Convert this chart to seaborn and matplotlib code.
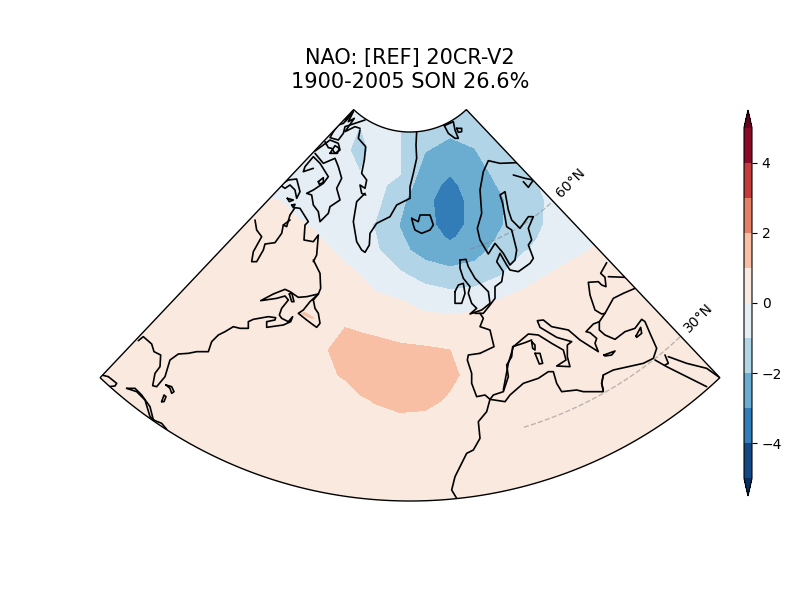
import numpy as np
import pandas as pd
import matplotlib
matplotlib.use("Agg")
import matplotlib.pyplot as plt
from matplotlib.patches import Polygon
from matplotlib.colors import Normalize
import seaborn as sns

TITLE = "NAO: [REF] 20CR-V2\n1900-2005 SON 26.6%"
LEVELS = np.arange(-5, 6, 1)
CBAR_TICKS = [-4, -2, 0, 2, 4]

# map-plane sampling of the pattern
GRID_X = [100, 200, 280, 315, 345, 360, 375, 400, 425, 450, 475, 500, 525, 550, 600, 720]
GRID_Y = [100, 125, 150, 175, 185, 200, 225, 237, 250, 275, 300, 325, 350, 375, 400, 425, 500]
NAO = [
 [-.2, -.3, -.5, -.6, -.75, -1.0, -.85, -1.0, -1.3, -1.7, -1.6, -1.2, -1.0, -.9, -.6, -.4],
 [-.2, -.3, -.5, -.6, -.75, -1.0, -.85, -1.0, -1.3, -1.7, -1.6, -1.2, -1.0, -.9, -.6, -.4],
 [-.2, -.3, -.5, -.7, -.875, -1.25, -.78, -.97, -1.95, -2.3, -2.03, -1.1, -.9, -.8, -.6, -.4],
 [-.1, -.2, -.45, -.6, -.7, -.97, -.75, -1.0, -2.5, -3.0, -2.45, -1.75, -1.05, -.85, -.6, -.3],
 [.06, -.04, -.27, -.54, -.68, -.87, -.74, -1.3, -2.65, -3.2, -2.6, -1.9, -1.17, -.87, -.56, -.26],
 [.3, .2, 0, -.45, -.65, -.72, -.72, -1.72, -2.9, -3.2, -2.85, -2.15, -1.35, -.9, -.5, -.2],
 [.4, .3, .15, -.05, -.55, -.8, -1.05, -2.05, -2.85, -3.2, -2.85, -2.1, -1.4, -.85, -.35, -.1],
 [.45, .38, .25, .05, -.33, -.58, -.95, -1.88, -2.65, -3.1, -2.7, -1.9, -1.22, -.8, -.08, .2],
 [.5, .45, .35, .15, -.1, -.35, -.85, -1.7, -2.45, -2.75, -2.4, -1.65, -1.05, -.75, .2, .5],
 [.55, .5, .45, .3, .1, 0, -.3, -.85, -1.35, -1.65, -1.5, -1.05, -.4, .05, .35, .6],
 [.6, .55, .55, .5, .4, .25, .15, 0, -.4, -.55, -.45, .02, .35, .55, .6, .65],
 [.65, .65, .7, .8, .97, .85, .75, .6, .45, .4, .5, .6, .65, .65, .65, .65],
 [.7, .7, .75, .8, 1.25, 1.35, 1.3, 1.15, 1.1, 1.0, .75, .7, .7, .7, .7, .7],
 [.7, .7, .72, .8, 1.06, 1.4, 1.5, 1.5, 1.45, 1.2, .65, .65, .65, .65, .65, .65],
 [.65, .65, .65, .7, .75, .9, 1.05, 1.3, 1.25, .88, .7, .65, .65, .65, .65, .65],
 [.6, .6, .6, .6, .6, .65, .7, .7, .65, .65, .6, .6, .6, .6, .6, .6],
 [.6, .6, .6, .6, .6, .6, .6, .6, .6, .6, .6, .6, .6, .6, .6, .6],
]
# small coastal cell above the 1 level, off Newfoundland
PATCH_VALUE = 1.5
PATCH = [(300, 313), (305, 312), (315, 318), (312, 319), (303, 315)]

# domain
APEX = (410, 50)
R_OUTER, R_INNER, HALF_ANGLE = 451, 82, 43.4
PARALLELS = {"60°N": 208, "30°N": 394}
PARALLEL_START = 16.8

# coastlines: (origin x, origin y, scale-3 outline points)
COASTS = [
 # Hudson Bay, Ungava, Labrador
 (100, 220, [(465,0),(470,30),(485,50),(460,95),(455,125),(470,125),(490,90),(495,72),(525,68),(545,40),(550,15),(570,0)]),
 (280, 105, [(10,360),(20,365),(30,330),(45,308),(60,310),(85,350),(75,360),(72,405),(100,410),(115,390),(110,450),(100,470)]),
 (100, 220, [(640,120),(660,160),(662,205),(655,222),(620,230),(595,232),(570,215),(555,208),(520,222),(482,242),(530,235),(555,228),(565,240),(545,265),(538,285),(545,295),(565,305),(578,290),(572,305),(550,315),(500,322),(500,305),(525,300),(527,293),(505,290),(460,298),(445,305),(445,325),(420,325),(400,320),(375,335),(355,345),(335,365),(325,395),(290,395),(265,400),(235,402),(210,420),(195,470),(170,500),(158,497),(165,460),(180,440),(182,405),(162,395),(155,372),(130,350),(115,362)]),
 (100, 220, [(655,222),(640,240),(645,265),(655,280),(660,310),(650,322),(640,315),(620,300),(595,280),(610,270),(630,245),(655,222)]),
 (100, 220, [(568,222),(575,218),(582,245),(575,245),(568,222)]),
 (100, 220, [(5,465),(25,470),(50,490),(45,498),(25,500)]),
 (100, 220, [(80,505),(105,505),(125,525),(150,560),(160,600),(185,610),(200,628)]),
 (100, 220, [(80,505),(110,515),(135,540),(150,590),(162,600)]),
 (100, 220, [(198,495),(215,500),(222,515),(215,520),(210,505),(198,495)]),
 (100, 220, [(185,545),(192,525),(198,530),(192,545),(185,545)]),
 # Arctic islands
 (280, 105, [(218,14),(205,40),(190,55),(175,60),(160,80),(150,98),(175,105),(190,85),(195,65),(225,55),(255,45)]),
 (280, 105, [(105,138),(130,120),(150,105),(175,115),(180,135),(165,145),(155,130),(145,128),(135,110)]),
 (280, 105, [(150,145),(165,122),(178,130),(172,145),(150,145)]),
 (280, 105, [(105,145),(130,175),(165,160),(175,185),(185,220),(170,250),(180,285),(150,305),(145,325),(120,350),(115,320),(100,300),(95,270),(80,265),(100,255),(130,235),(145,215),(120,175),(100,155),(75,185),(70,200),(100,190)]),
 (280, 105, [(0,240),(25,225),(50,222),(60,260),(50,280),(45,255),(30,240),(15,250),(0,240)]),
 (280, 105, [(115,230),(130,218),(130,232),(118,238),(115,230)]),
 (280, 105, [(22,280),(40,285),(28,290),(22,280)]),
 (280, 105, [(35,300),(45,298),(40,308),(35,300)]),
 (345, 105, [(0,45),(25,20),(10,50),(28,40),(0,80),(30,65),(45,70)]),
 # Greenland
 (345, 105, [(45,75),(40,100),(62,125),(58,165),(50,205),(65,225),(60,250),(45,240),(50,265),(62,270)]),
 (280, 105, [(255,265),(230,290),(220,350),(230,410),(245,435),(255,442),(268,420),(270,385),(290,355),(330,335),(350,300),(390,280)]),
 (345, 105, [(195,279),(195,245),(205,205),(215,160),(213,120),(215,80)]),
 # Svalbard
 (345, 105, [(298,62),(325,50),(330,75),(340,100),(330,100),(310,85),(298,62)]),
 (345, 105, [(335,70),(350,70),(350,80),(340,82),(335,70)]),
 # Iceland
 (400, 150, [(35,205),(55,215),(60,195),(90,195),(100,225),(90,240),(65,250),(45,240),(40,225),(35,205)]),
 # Scandinavia, Baltic, North Sea
 (400, 150, [(350,38),(300,40),(265,32),(250,65),(240,120),(245,190),(232,235),(240,270),(265,312),(285,280),(310,310),(330,345),(345,330),(350,300),(335,240),(320,230),(308,160),(300,135),(315,125),(325,180),(335,210),(360,235),(385,200),(400,200),(385,235),(395,270),(385,285),(400,325),(390,340),(355,365),(330,360),(320,345),(300,310),(290,335),(310,365),(305,395),(285,410),(285,445),(270,465),(250,490),(225,490)]),
 (400, 150, [(340,75),(375,85),(400,90),(385,112),(370,95)]),
 # Britain, Ireland
 (400, 150, [(180,330),(198,328),(205,350),(225,385),(265,425),(270,460),(245,480),(210,492),(230,475),(215,460),(205,430),(210,410),(190,385),(180,355),(180,330)]),
 (400, 150, [(165,425),(175,405),(190,400),(195,430),(185,460),(165,460),(165,425)]),
 # Biscay, Iberia
 (480, 250, [(0,190),(10,205),(0,230),(30,240),(42,290),(0,310)]),
 (440, 340, [(120,40),(85,45),(82,60),(95,100),(95,130),(110,170),(135,165),(150,178),(160,165),(190,155),(205,110),(200,75),(215,50),(218,20),(255,8),(275,0)]),
 # French coast, Italy, Balkans, Turkey, Levant
 (480, 250, [(70,420),(85,340),(100,290),(145,252),(175,255),(215,280),(250,300),(258,330),(230,348),(270,350),(262,320),(262,285),(275,275),(230,262),(180,232),(172,212),(190,210),(215,230),(265,240),(300,270),(355,305),(345,280),(350,265),(330,248),(318,245),(340,222),(358,215),(358,240),(375,255),(405,268),(435,245),(465,235),(485,208),(495,215),(510,250),(530,295),(520,325),(490,340),(445,350),(400,360),(370,375),(365,400),(370,420)]),
 (480, 250, [(155,275),(165,285),(165,300),(158,295),(155,275)]),
 (480, 250, [(165,310),(180,310),(188,340),(178,342),(165,310)]),
 (480, 250, [(372,315),(405,303),(395,315),(375,318),(372,315)]),
 (480, 250, [(468,258),(482,232),(485,250),(470,262),(468,258)]),
 # North Africa
 (440, 340, [(490,105),(485,130),(490,155),(430,155),(410,150),(365,155),(350,130),(340,95),(325,95),(295,115),(250,130),(210,165),(195,185),(150,178),(140,215),(115,245),(120,295),(100,330),(80,340),(60,380),(45,410),(35,450),(50,475)]),
 # Black Sea, Azov
 (480, 250, [(380,38),(362,70),(375,82),(378,110),(365,105),(355,95),(325,97),(330,135),(345,180),(365,192),(375,190),(400,145),(430,130),(465,115)]),
 (480, 250, [(385,80),(435,82)]),
 (480, 250, [(375,190),(358,215)]),
 # Red Sea
 (480, 250, [(525,330),(560,350),(600,370),(680,410)]),
 (480, 250, [(555,315),(565,340),(555,345)]),
 (480, 250, [(565,320),(620,340),(680,355),(718,382)]),
]

sns.set_style("white", {"text.color": "black", "xtick.color": "black", "ytick.color": "black",
                        "axes.labelcolor": "black", "axes.edgecolor": "black"})
plt.rcParams["font.family"] = "DejaVu Sans"

fig = plt.figure(figsize=(8, 6), dpi=100)
ax = fig.add_axes([0, 0, 1, 1])
ax.set_xlim(0, 800)
ax.set_ylim(600, 0)
ax.axis("off")

cmap = sns.color_palette("RdBu_r", as_cmap=True)
norm = Normalize(-5, 5)
cf = ax.contourf(GRID_X, GRID_Y, np.array(NAO), levels=LEVELS, cmap=cmap, norm=norm, extend="both")

# domain outline
t = np.radians(np.linspace(-HALF_ANGLE, HALF_ANGLE, 200))
outer = np.c_[APEX[0] + R_OUTER * np.sin(t), APEX[1] + R_OUTER * np.cos(t)]
inner = np.c_[APEX[0] + R_INNER * np.sin(t), APEX[1] + R_INNER * np.cos(t)][::-1]
domain = Polygon(np.vstack([outer, inner]), closed=True, fc="none", ec="black", lw=1, zorder=5)
ax.add_patch(domain)
cf.set_clip_path(domain)

ax.fill(*zip(*PATCH), color=cmap(norm(PATCH_VALUE)), lw=0, zorder=2)

# parallels
for label, r in PARALLELS.items():
    a = np.radians(np.linspace(PARALLEL_START, HALF_ANGLE, 60))
    ax.plot(APEX[0] + r * np.sin(a), APEX[1] + r * np.cos(a), color="gray", alpha=0.5,
            lw=1, ls="--", zorder=3)
    e = np.radians(HALF_ANGLE)
    ax.text(APEX[0] + r * np.sin(e) + 18, APEX[1] + r * np.cos(e) - 18, label,
            rotation=45, ha="center", va="center", rotation_mode="anchor", fontsize=10)

# coastlines
rows = []
for i, (ox, oy, pts) in enumerate(COASTS):
    for (zx, zy) in pts:
        rows.append({"piece": i, "x": ox + zx / 3, "y": oy + zy / 3})
coast = pd.DataFrame(rows)
before = len(ax.lines)
sns.lineplot(data=coast, x="x", y="y", units="piece", estimator=None, sort=False,
             color="black", lw=1.2, ax=ax, legend=False, zorder=4)
for ln in ax.lines[before:]:
    ln.set_clip_path(domain)
ax.set_xlim(0, 800)
ax.set_ylim(600, 0)
ax.axis("off")

ax.text(410, 70, TITLE, ha="center", va="center", fontsize=15, linespacing=1.25)

cax = fig.add_axes([744 / 800, 1 - 496 / 600, 8 / 800, 386 / 600])
cb = fig.colorbar(cf, cax=cax, ticks=CBAR_TICKS)
cb.ax.tick_params(labelsize=10, length=3.5, width=0.8, right=True, color="black", labelcolor="black")

fig.savefig("out.png", dpi=100)
